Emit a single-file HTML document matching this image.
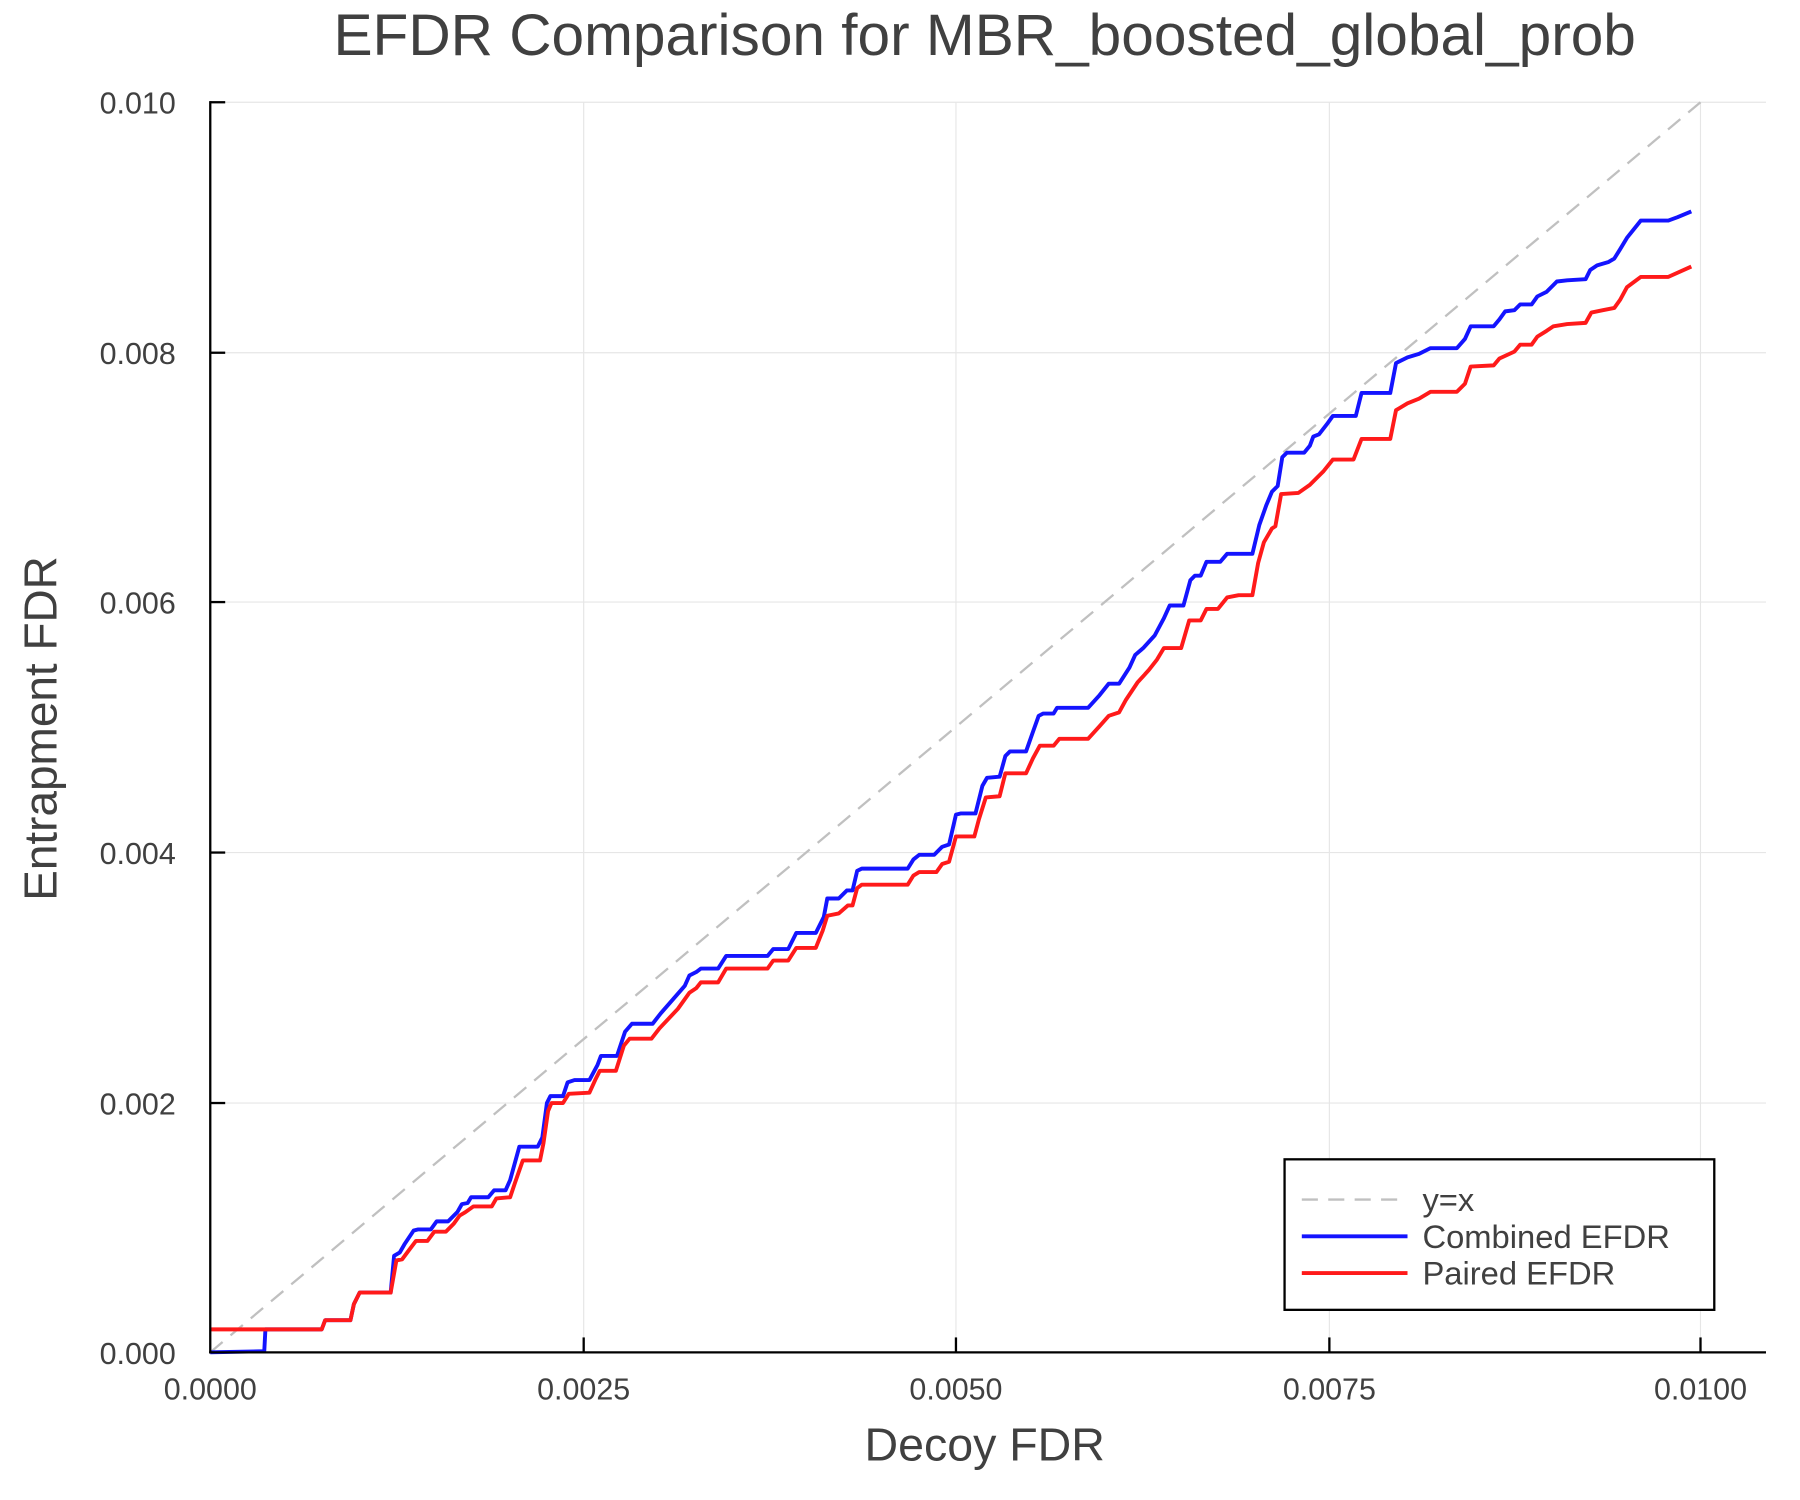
<!DOCTYPE html>
<html><head><meta charset="utf-8"><style>html,body{margin:0;padding:0;background:#fff}svg{display:block}</style></head>
<body>
<svg width="1800" height="1500" viewBox="0 0 1566.6 1305.5" xmlns="http://www.w3.org/2000/svg" font-family="'Liberation Sans', sans-serif" fill="#404040">
<rect width="1566.6" height="1305.5" fill="#fff"/>
<g stroke="#e6e6e6" stroke-width="1">
<line x1="508" y1="89" x2="508" y2="1177"/><line x1="832" y1="89" x2="832" y2="1177"/><line x1="1157" y1="89" x2="1157" y2="1177"/><line x1="1480" y1="89" x2="1480" y2="1177"/>
<line x1="183" y1="89" x2="1537" y2="89"/><line x1="183" y1="307" x2="1537" y2="307"/><line x1="183" y1="524" x2="1537" y2="524"/><line x1="183" y1="742" x2="1537" y2="742"/><line x1="183" y1="960" x2="1537" y2="960"/>
</g>
<line x1="183" y1="1177" x2="1480" y2="89" stroke="#c0c0c0" stroke-width="2" stroke-dasharray="14,9"/>
<polyline fill="none" stroke="#1414ff" stroke-width="3.4" stroke-linejoin="round" points="183,1177 230,1176 231,1157 280,1157 283,1149 305,1149 308,1135 313,1125 340,1125 343,1093 348,1090 352,1083 360,1071 364,1070 375,1070 380,1063 390,1063 398,1055 402,1048 407,1047 410,1042 425,1042 430,1036 440,1036 444,1027 452,998 468,998 472,990 476,960 479,954 490,954 494,942 500,940 513,940 520,927 523,919 537,919 544,898 550,891 568,891 575,882 596,858 600,849 606,846 610,843 625,843 632,832 668,832 673,826 686,826 693,812 710,812 717,798 720,782 730,782 737,775 742,775 746,758 750,756 790,756 795,748 800,744 813,744 820,737 826,735 832,709 836,708 849,708 855,684 859,677 870,676 875,658 879,654 893,654 899,637 904,623 908,621 917,621 920,616 947,616 957,605 965,595 974,595 983,581 988,570 995,564 1005,553 1013,538 1018,527 1030,527 1036,505 1040,501 1045,501 1050,489 1062,489 1068,482 1090,482 1096,457 1102,440 1107,428 1112,423 1116,398 1120,394 1135,394 1140,388 1143,380 1148,378 1155,369 1160,362 1180,362 1185,342 1210,342 1215,316 1225,311 1235,308 1245,303 1268,303 1275,295 1280,284 1300,284 1305,278 1310,271 1318,270 1323,265 1333,265 1338,258 1346,254 1352,248 1355,245 1364,244 1380,243 1384,235 1390,231 1400,228 1405,225 1410,217 1416,207 1428,192 1452,192 1460,189 1472,184"/>
<polyline fill="none" stroke="#ff1a1a" stroke-width="3.4" stroke-linejoin="round" points="183,1157 280,1157 283,1149 305,1149 308,1135 313,1125 340,1125 345,1097 350,1096 356,1088 362,1080 372,1080 378,1072 388,1072 395,1065 400,1058 405,1055 412,1050 428,1050 432,1043 444,1042 448,1030 455,1010 470,1010 473,995 477,967 480,960 490,960 495,952 513,951 518,940 522,932 536,932 543,910 548,904 567,904 574,895 590,878 600,864 606,860 610,855 625,855 632,843 668,843 673,836 686,836 693,825 710,825 716,810 720,797 730,795 738,788 742,788 746,773 750,770 790,770 795,762 800,759 815,759 820,752 826,750 832,728 848,728 852,713 858,694 870,693 875,673 893,673 899,660 905,649 917,649 922,643 947,643 957,632 965,623 974,620 980,609 990,594 1000,583 1007,574 1013,564 1028,564 1035,540 1045,540 1050,530 1060,530 1068,520 1078,518 1090,518 1095,490 1100,472 1107,460 1110,458 1115,430 1130,429 1140,422 1145,417 1152,410 1160,400 1178,400 1185,382 1210,382 1215,357 1225,351 1235,347 1245,341 1268,341 1275,334 1280,319 1300,318 1305,312 1318,306 1323,300 1333,300 1338,293 1346,288 1352,284 1364,282 1380,281 1385,272 1395,270 1405,268 1410,261 1416,250 1428,241 1452,241 1472,232"/>
<g stroke="#000" stroke-width="2">
<line x1="183" y1="88" x2="183" y2="1178"/><line x1="182" y1="1177" x2="1537" y2="1177"/>
<line x1="508" y1="1177" x2="508" y2="1164"/><line x1="832" y1="1177" x2="832" y2="1164"/><line x1="1157" y1="1177" x2="1157" y2="1164"/><line x1="1480" y1="1177" x2="1480" y2="1164"/>
<line x1="183" y1="89" x2="196" y2="89"/><line x1="183" y1="307" x2="196" y2="307"/><line x1="183" y1="524" x2="196" y2="524"/><line x1="183" y1="742" x2="196" y2="742"/><line x1="183" y1="960" x2="196" y2="960"/>
</g>
<g font-size="26.5" text-anchor="end">
<text x="153" y="99">0.010</text><text x="153" y="317">0.008</text><text x="153" y="534">0.006</text><text x="153" y="752">0.004</text><text x="153" y="970">0.002</text><text x="153" y="1187">0.000</text>
</g>
<g font-size="26.5" text-anchor="middle">
<text x="183" y="1218">0.0000</text><text x="508" y="1218">0.0025</text><text x="832" y="1218">0.0050</text><text x="1157" y="1218">0.0075</text><text x="1480" y="1218">0.0100</text>
</g>
<text x="857" y="48" font-size="51" text-anchor="middle">EFDR Comparison for MBR_boosted_global_prob</text>
<text x="857" y="1271" font-size="40.5" text-anchor="middle">Decoy FDR</text>
<text transform="translate(49,634) rotate(-90)" font-size="40" text-anchor="middle">Entrapment FDR</text>
<rect x="1118" y="1009" width="374" height="131" fill="#fff" stroke="#000" stroke-width="2"/>
<line x1="1133" y1="1044" x2="1225" y2="1044" stroke="#c0c0c0" stroke-width="2" stroke-dasharray="14,9"/>
<line x1="1133" y1="1076" x2="1225" y2="1076" stroke="#1414ff" stroke-width="3.4"/>
<line x1="1133" y1="1108" x2="1225" y2="1108" stroke="#ff1a1a" stroke-width="3.4"/>
<g font-size="28.5"><text x="1238" y="1054">y=x</text><text x="1238" y="1086">Combined EFDR</text><text x="1238" y="1118">Paired EFDR</text></g>
</svg>
</body></html>
